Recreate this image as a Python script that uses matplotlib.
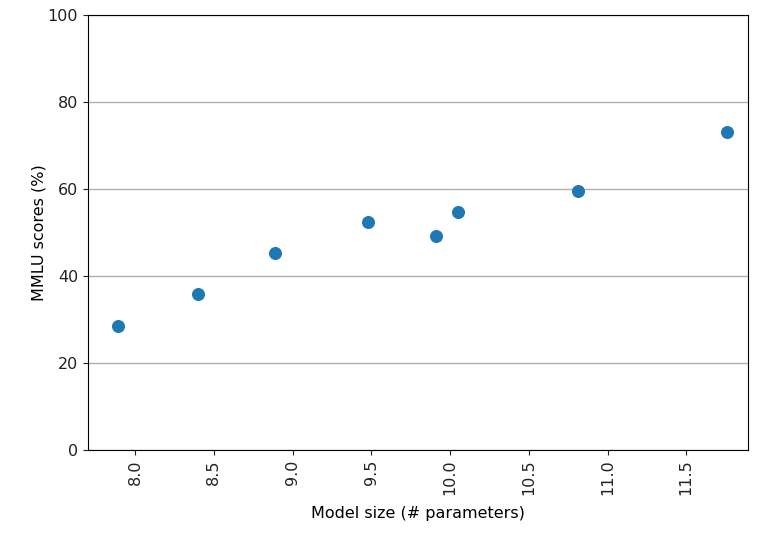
import matplotlib
matplotlib.use("Agg")
import matplotlib.pyplot as plt

# log10 model size vs MMLU score
model_size = [7.89, 8.40, 8.89, 9.48, 9.91, 10.05, 10.81, 11.76]
mmlu_score = [28.5, 35.9, 45.3, 52.4, 49.2, 54.7, 59.5, 73.1]

fig, ax = plt.subplots(figsize=(7.7, 5.48), dpi=100)
ax.scatter(model_size, mmlu_score, s=70, color="#1f77b4", zorder=3)
ax.set_ylim(0, 100)
ax.set_xlim(7.70, 11.89)
ax.grid(axis="y", color="#b0b0b0", linewidth=1)
ax.tick_params(axis="x", labelrotation=90)
ax.tick_params(labelsize=11.5, colors="#222222")
ax.set_xlabel("Model size (# parameters)", fontsize=11.5, labelpad=8)
ax.set_ylabel("MMLU scores (%)", fontsize=11.5, labelpad=1)
fig.subplots_adjust(left=0.114, right=0.971, top=0.973, bottom=0.179)
fig.savefig("out.png")
